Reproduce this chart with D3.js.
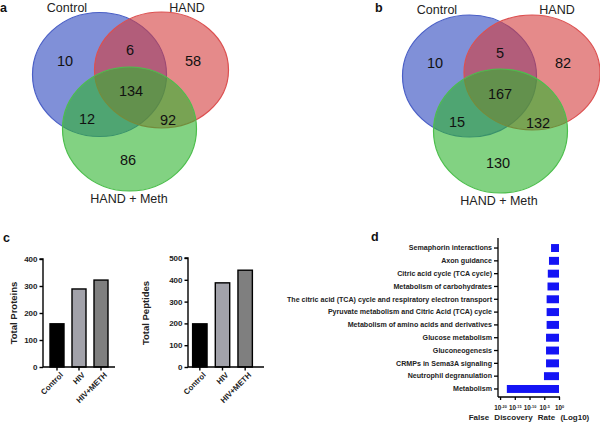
<!DOCTYPE html>
<html><head><meta charset="utf-8">
<script src="https://cdn.jsdelivr.net/npm/d3@7"></script>
<style>body{margin:0;background:#fff}svg{display:block}text{font-family:"Liberation Sans",Arial,sans-serif}</style>
</head><body>
<svg id="c" width="600" height="423"></svg>
<script>
// ---- data ----
const vennSets = ["Control", "HAND", "HAND + Meth"];
const vennRegions = ["C", "H", "M", "CH", "CM", "HM", "CHM"];
const vennA = [10, 58, 86, 6, 12, 92, 134];
const vennB = [10, 82, 130, 5, 15, 132, 167];

const groups = ["Control", "HIV", "HIV+METH"];
const totalProteins = [160, 289, 322];
const totalPeptides = [198, 386, 444];
const proteinTicks = [0, 100, 200, 300, 400];
const peptideTicks = [0, 100, 200, 300, 400, 500];

const pathways = ["Semaphorin interactions", "Axon guidance", "Citric acid cycle (TCA cycle)",
  "Metabolism of carbohydrates", "The citric acid (TCA) cycle and respiratory electron transport",
  "Pyruvate metabolism and Citric Acid (TCA) cycle", "Metabolism of amino acids and derivatives",
  "Glucose metabolism", "Gluconeogenesis", "CRMPs in Sema3A signaling",
  "Neutrophil degranulation", "Metabolism"];
const fdrLog10 = [-2.7, -3.4, -3.8, -3.9, -4.2, -4.2, -4.2, -4.4, -4.4, -4.4, -5.1, -17.7];
const fdrTickExp = [-20, -15, -10, -5, 0];

const svg = d3.select("#c");
const FONT = "Liberation Sans, Arial, sans-serif";

// ---- Venn diagrams ----
const vennColors = [
  {fill: "#2b46be", stroke: "#4a5fc6"},
  {fill: "#d43c3c", stroke: "#dc5050"},
  {fill: "#2fb42f", stroke: "#4cbe4c"}
];
function venn(g, circles, labelPos, values, valuePos) {
  circles.forEach((c, i) => {
    g.append("ellipse").attr("cx", c[0]).attr("cy", c[1]).attr("rx", c[2]).attr("ry", c[3])
      .attr("fill", vennColors[i].fill).attr("fill-opacity", 0.6)
      .attr("stroke", vennColors[i].stroke).attr("stroke-width", 1.2);
  });
  vennSets.forEach((t, i) => {
    g.append("text").attr("x", labelPos[i][0]).attr("y", labelPos[i][1])
      .attr("text-anchor", "middle").attr("font-size", 12.5).attr("fill", "#222").text(t);
  });
  values.forEach((v, i) => {
    g.append("text").attr("x", valuePos[i][0]).attr("y", valuePos[i][1])
      .attr("text-anchor", "middle").attr("dominant-baseline", "central")
      .attr("font-size", 14.5).attr("fill", "#111").text(v);
  });
}
const posA = {C: [65, 61], H: [193, 61], M: [128, 160], CH: [130, 50], CM: [87, 119], HM: [168, 120], CHM: [131, 91]};
const posB = {C: [435, 63], H: [563, 63], M: [498, 163], CH: [500, 53], CM: [457, 122], HM: [538, 123], CHM: [500, 94]};
venn(svg.append("g"),
  [[99.5, 74.5, 67, 62], [161.5, 70, 67, 58], [129.5, 129, 67, 62]],
  [[67, 12], [187, 12], [129, 203]],
  vennA, vennRegions.map(r => posA[r]));
venn(svg.append("g"),
  [[469.5, 76, 67, 61], [532, 72.5, 68, 57.5], [500.5, 131, 67, 62]],
  [[437, 14], [557, 14], [499, 205]],
  vennB, vennRegions.map(r => posB[r]));

// panel letters
[["a", 0, 12], ["b", 375, 12], ["c", 3, 242], ["d", 371, 241]].forEach(d => {
  svg.append("text").attr("x", d[1]).attr("y", d[2]).attr("font-size", 12.5)
    .attr("font-weight", "bold").attr("fill", "#111").text(d[0]);
});

// ---- bar charts (c) ----
const barFills = ["#000000", "#a2a2aa", "#7f7f7f"];
function barChart(opts) {
  const g = svg.append("g");
  const y = d3.scaleLinear().domain([0, opts.max]).range([367, opts.top]);
  const x = d3.scaleBand().domain(groups).range(opts.xr).paddingInner(0.364).paddingOuter(0.182);
  g.selectAll("rect").data(opts.values).join("rect")
    .attr("x", (d, i) => x(groups[i])).attr("width", x.bandwidth())
    .attr("y", d => y(d)).attr("height", d => y(0) - y(d))
    .attr("fill", (d, i) => barFills[i]).attr("stroke", "#000").attr("stroke-width", 1.4);
  const ya = g.append("g").attr("transform", `translate(${opts.ax},0)`)
    .call(d3.axisLeft(y).tickValues(opts.ticks).tickSize(3.5).tickPadding(2));
  ya.select(".domain").attr("stroke-width", 1.4).attr("d", `M-3.5,${opts.top}H0V367`);
  ya.selectAll(".tick line").attr("stroke-width", 1.4);
  ya.selectAll("text").attr("font-size", 8).attr("font-weight", "bold").attr("fill", "#222")
    .attr("font-family", FONT);
  const xa = g.append("g").attr("transform", "translate(0,367)")
    .call(d3.axisBottom(x).tickSize(3.5).tickPadding(2));
  xa.select(".domain").attr("stroke-width", 1.4).attr("d", `M${opts.ax},0H${opts.xend}`);
  xa.selectAll(".tick line").attr("stroke-width", 1.4);
  xa.selectAll("text").attr("font-size", 7.8).attr("font-weight", "bold").attr("fill", "#222")
    .attr("font-family", FONT)
    .attr("text-anchor", "end").attr("dy", "0.3em")
    .attr("transform", "translate(1,3) rotate(-45)");
  g.append("text").attr("transform", `translate(${opts.titleX},${opts.titleY}) rotate(-90)`)
    .attr("text-anchor", "middle").attr("font-size", 9.5).attr("font-weight", "bold")
    .attr("fill", "#222").text(opts.title);
}
barChart({values: totalProteins, max: 400, top: 259, ticks: proteinTicks, xr: [46, 112],
  ax: 43, xend: 115, title: "Total Proteins", titleX: 17, titleY: 313});
barChart({values: totalPeptides, max: 500, top: 258, ticks: peptideTicks, xr: [188.5, 256.5],
  ax: 188, xend: 264, title: "Total Peptides", titleX: 149, titleY: 313});

// ---- FDR bars (d) ----
{
  const g = svg.append("g");
  const x = d3.scaleLinear().domain([-20.7, 0]).range([498, 559]);
  const y = d3.scaleBand().domain(pathways).range([241.5, 395.5]).paddingInner(0.38).paddingOuter(0.2);
  g.selectAll("rect").data(fdrLog10).join("rect")
    .attr("x", d => x(d)).attr("width", d => x(0) - x(d))
    .attr("y", (d, i) => y(pathways[i])).attr("height", y.bandwidth())
    .attr("fill", "#1414f5");
  const ya = g.append("g").attr("transform", "translate(498,0)")
    .call(d3.axisLeft(y).tickSize(4).tickPadding(2));
  ya.select(".domain").attr("stroke-width", 1.3).attr("d", "M0,238V397");
  ya.selectAll(".tick line").attr("stroke-width", 1.3);
  ya.selectAll("text").attr("font-size", 7.1).attr("font-weight", "bold").attr("fill", "#222")
    .attr("font-family", FONT);
  const xa = g.append("g").attr("transform", "translate(0,397)")
    .call(d3.axisBottom(x).tickValues(fdrTickExp).tickSize(3).tickPadding(2).tickFormat(""));
  xa.select(".domain").attr("stroke-width", 1.3).attr("d", "M498,0H560");
  xa.selectAll(".tick line").attr("stroke-width", 1.3);
  xa.selectAll(".tick").each(function(d) {
    const t = d3.select(this).append("text").attr("y", 13).attr("text-anchor", "middle")
      .attr("fill", "#222").attr("font-size", 6.3).attr("font-weight", "bold")
      .attr("font-family", FONT);
    t.append("tspan").text("10");
    t.append("tspan").attr("dy", -2.5).attr("font-size", 3.8).text(String(d));
  });
  g.append("text").attr("x", 529).attr("y", 420).attr("text-anchor", "middle")
    .attr("font-size", 8).attr("font-weight", "bold").attr("fill", "#222")
    .attr("word-spacing", 3).text("False Discovery Rate (Log10)");
}
</script>
</body></html>
